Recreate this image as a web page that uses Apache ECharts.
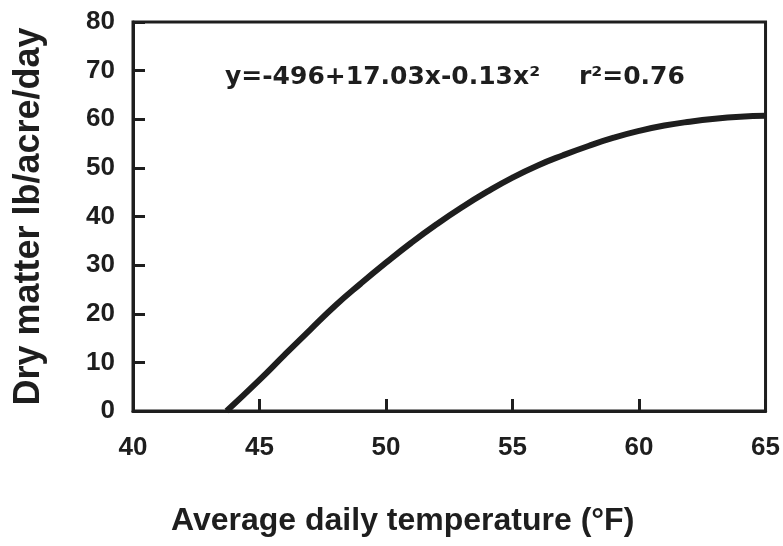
<!DOCTYPE html>
<html>
<head>
<meta charset="utf-8">
<script src="https://cdn.jsdelivr.net/npm/echarts@6/dist/echarts.min.js"></script>
<style>html,body{margin:0;padding:0;background:#fff}#c{width:783px;height:546px}</style>
</head>
<body>
<div id="c"></div>
<script>
// Data
const temperatureF = [43.7, 45, 46, 47, 48, 49, 50, 51, 52, 53, 54, 55, 56, 57, 58, 59, 60, 61, 62, 63, 64, 65];
const dryMatter    = [0, 6.4, 11.6, 16.7, 21.7, 26.2, 30.5, 34.6, 38.4, 41.9, 45.1, 48, 50.5, 52.6, 54.5, 56.2, 57.6, 58.7, 59.5, 60.1, 60.5, 60.7];
const xTicks = [40, 45, 50, 55, 60, 65];
const yTicks = [0, 10, 20, 30, 40, 50, 60, 70, 80];
const equationText = 'y=-496+17.03x-0.13x\u00B2';
const fitText = 'r\u00B2=0.76';
const xTitle = 'Average daily temperature (\u00B0F)';
const yTitle = 'Dry matter lb/acre/day';

const FONT = '"Liberation Sans", Arial, Helvetica, sans-serif';
const WIDE = '"DejaVu Sans", "Liberation Sans", Arial, sans-serif';
const INK = '#1e1e1e';

const chart = echarts.init(document.getElementById('c'), null, {renderer: 'canvas'});
chart.setOption({
  animation: false,
  backgroundColor: '#fff',
  grid: {left: 133, top: 22, right: 16, bottom: 135, show: true, borderColor: INK, borderWidth: 3, backgroundColor: 'transparent'},
  title: [{
    text: equationText, left: 220, top: 60,
    textStyle: {fontFamily: WIDE, fontWeight: 'bold', fontSize: 25, color: INK}
  }, {
    text: fitText, left: 574, top: 60,
    textStyle: {fontFamily: WIDE, fontWeight: 'bold', fontSize: 25, color: INK}
  }, {
    text: xTitle, left: 166, top: 500,
    textStyle: {fontFamily: FONT, fontWeight: 'bold', fontSize: 32, color: INK}
  }],
  xAxis: {
    type: 'value', min: xTicks[0], max: xTicks[xTicks.length - 1], interval: 5,
    axisLine: {show: true, lineStyle: {color: INK, width: 3}},
    axisTick: {show: true, inside: true, length: 12, lineStyle: {color: INK, width: 3}},
    axisLabel: {margin: 24, fontFamily: FONT, fontWeight: 'bold', fontSize: 26, color: INK},
    splitLine: {show: false}
  },
  yAxis: {
    type: 'value', min: yTicks[0], max: yTicks[yTicks.length - 1], interval: 10,
    name: yTitle, nameLocation: 'middle', nameGap: 86, nameRotate: 90,
    nameTextStyle: {fontFamily: FONT, fontWeight: 'bold', fontSize: 36, color: INK},
    axisLine: {show: true, lineStyle: {color: INK, width: 3}},
    axisTick: {show: true, inside: true, length: 12, lineStyle: {color: INK, width: 3}},
    axisLabel: {margin: 18, fontFamily: FONT, fontWeight: 'bold', fontSize: 26, color: INK},
    splitLine: {show: false}
  },
  series: [{
    type: 'line',
    data: temperatureF.map((t, i) => [t, dryMatter[i]]),
    smooth: 0.5,
    showSymbol: false,
    lineStyle: {color: INK, width: 6},
    z: 3
  }]
});
</script>
</body>
</html>
